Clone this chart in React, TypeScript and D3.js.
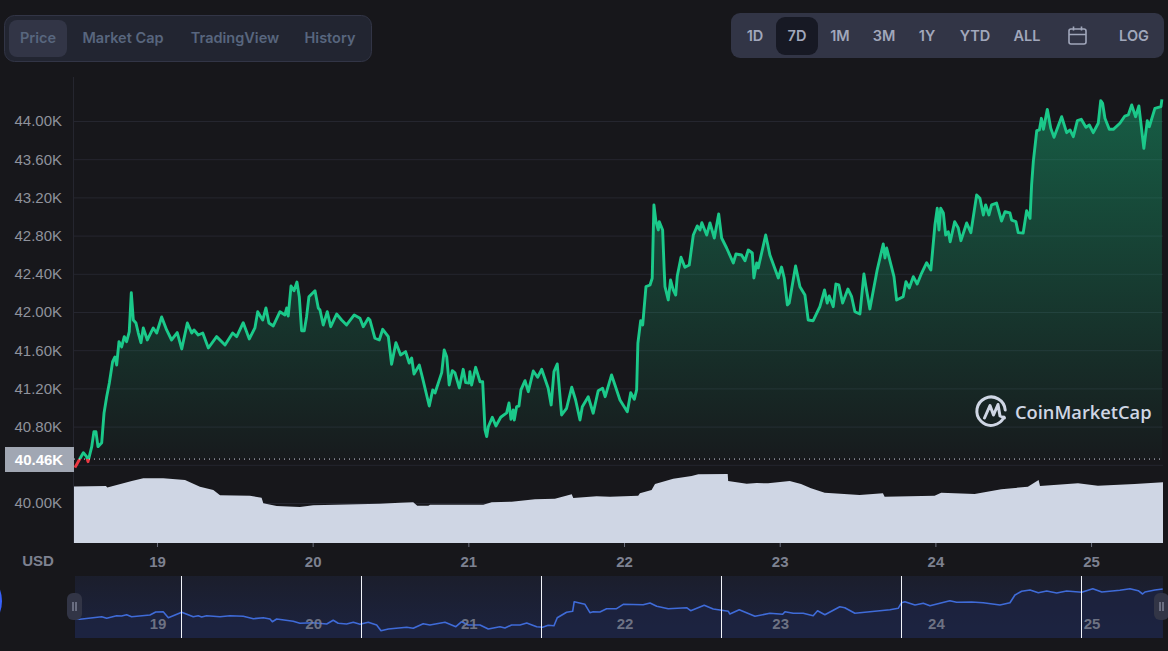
import { useRef, useEffect } from 'react';
import * as d3 from 'd3';

type Point = [number, number];

const dayTicks = [19, 20, 21, 22, 23, 24, 25];
const priceTicks = [40000, 40400, 40800, 41200, 41600, 42000, 42400, 42800, 43200, 43600, 44000];
const basePrice = 40460;
const leftTabs = ['Price', 'Market Cap', 'TradingView', 'History'];
const rangeTabs = ['1D', '7D', '1M', '3M', '1Y', 'YTD', 'ALL'];

// [day of month, USD]
const pricePoints: Point[] = [
  [18.473,40370],[18.493,40430],[18.527,40527],[18.548,40485],[18.557,40433],[18.581,40590],[18.595,40747],[18.608,40747],[18.621,40590],[18.645,40632],
  [18.66,40943],[18.677,41113],[18.694,41257],[18.715,41480],[18.73,41529],[18.741,41445],[18.756,41689],[18.773,41634],[18.79,41742],[18.805,41689],
  [18.822,41794],[18.835,42202],[18.848,41916],[18.865,41885],[18.88,41780],[18.897,41679],[18.912,41833],[18.938,41707],[18.976,41833],[18.998,41780],
  [19.03,41948],[19.062,41812],[19.094,41707],[19.13,41784],[19.159,41613],[19.195,41885],[19.223,41780],[19.238,41812],[19.265,41759],[19.294,41780],
  [19.33,41623],[19.383,41742],[19.437,41655],[19.486,41780],[19.512,41742],[19.554,41888],[19.593,41718],[19.629,41833],[19.647,42003],[19.679,41916],
  [19.7,42042],[19.719,41885],[19.747,41854],[19.79,42003],[19.822,41969],[19.833,42042],[19.843,41958],[19.861,42272],[19.88,42223],[19.899,42314],
  [19.914,42160],[19.929,41804],[19.946,41804],[19.961,41951],[19.976,42160],[20.015,42223],[20.036,42042],[20.047,42021],[20.068,41864],[20.094,42003],
  [20.116,41846],[20.154,41979],[20.186,41916],[20.218,41864],[20.267,41969],[20.304,41934],[20.325,41846],[20.357,41934],[20.368,41916],[20.4,41725],
  [20.428,41707],[20.45,41819],[20.486,41742],[20.507,41453],[20.535,41679],[20.565,41550],[20.597,41585],[20.62,41466],[20.636,41519],[20.651,41351],
  [20.685,41445],[20.71,41281],[20.749,41016],[20.771,41184],[20.786,41152],[20.829,41365],[20.845,41602],[20.861,41532],[20.877,41236],[20.897,41386],
  [20.914,41362],[20.942,41205],[20.967,41400],[20.983,41260],[21.004,41257],[21.01,41375],[21.021,41236],[21.047,41421],[21.075,41270],[21.092,41270],
  [21.107,40765],[21.118,40695],[21.128,40799],[21.154,40898],[21.177,40807],[21.208,40898],[21.246,40943],[21.261,41047],[21.274,40877],[21.288,40974],
  [21.295,40869],[21.31,41009],[21.325,41015],[21.338,41184],[21.364,41281],[21.385,41166],[21.417,41382],[21.445,41317],[21.471,41400],[21.513,41201],
  [21.532,41027],[21.55,41375],[21.571,41456],[21.599,40922],[21.631,40992],[21.664,41212],[21.689,41079],[21.717,40869],[21.732,41009],[21.77,41113],
  [21.802,40940],[21.834,41176],[21.862,41201],[21.879,41113],[21.92,41341],[21.974,41079],[22.021,40956],[22.043,41155],[22.066,41086],[22.081,41184],
  [22.089,41673],[22.107,41909],[22.12,41864],[22.141,42265],[22.167,42283],[22.181,42353],[22.192,43121],[22.205,42946],[22.22,42859],[22.226,42946],
  [22.248,42859],[22.258,42440],[22.263,42265],[22.284,42126],[22.299,42335],[22.316,42231],[22.332,42178],[22.342,42377],[22.366,42573],[22.391,42468],
  [22.419,42492],[22.445,42806],[22.47,42901],[22.488,42859],[22.5,42935],[22.531,42806],[22.552,42932],[22.58,42775],[22.608,43026],[22.627,42775],
  [22.659,42670],[22.702,42513],[22.719,42607],[22.755,42597],[22.777,42537],[22.798,42649],[22.824,42618],[22.834,42356],[22.852,42513],[22.862,42461],
  [22.91,42806],[22.937,42597],[22.991,42356],[23.012,42471],[23.029,42356],[23.049,42074],[23.061,42094],[23.102,42482],[23.13,42265],[23.162,42178],
  [23.183,41916],[23.215,41909],[23.258,42056],[23.288,42231],[23.305,42094],[23.318,42168],[23.344,42056],[23.361,42293],[23.38,42283],[23.404,42094],
  [23.438,42241],[23.462,42160],[23.483,42003],[23.515,41979],[23.541,42398],[23.554,42265],[23.579,42032],[23.626,42440],[23.665,42712],[23.676,42566],
  [23.687,42670],[23.734,42370],[23.751,42126],[23.793,42160],[23.811,42317],[23.832,42252],[23.858,42370],[23.883,42293],[23.911,42405],[23.944,42516],
  [23.971,42440],[23.997,42911],[24.012,43086],[24.023,42859],[24.034,43086],[24.051,43037],[24.066,42806],[24.083,42841],[24.095,42736],[24.124,42946],
  [24.147,42880],[24.164,42747],[24.201,42932],[24.228,42831],[24.265,43225],[24.286,43191],[24.308,43016],[24.323,43121],[24.344,43016],[24.361,43121],
  [24.393,43141],[24.425,42953],[24.447,43050],[24.479,43037],[24.49,42963],[24.517,42946],[24.532,42831],[24.564,42827],[24.586,43061],[24.608,42981],
  [24.618,43330],[24.629,43574],[24.651,43898],[24.668,43906],[24.681,44028],[24.694,43913],[24.719,44122],[24.741,43924],[24.762,43829],[24.811,44045],
  [24.843,43878],[24.865,43906],[24.886,43836],[24.912,44003],[24.937,44018],[24.967,43934],[24.989,43958],[25.014,43878],[25.046,43976],[25.062,44213],
  [25.074,44185],[25.089,44028],[25.117,43913],[25.143,43913],[25.185,43976],[25.217,44052],[25.239,44063],[25.261,44168],[25.286,44045],[25.307,44157],
  [25.339,43714],[25.361,44003],[25.374,43940],[25.41,44133],[25.449,44150],[25.455,44227],
];

// [day of month, volume in billions USD]
const volumePoints: Point[] = [
  [18.467,28.2],[18.672,28.5],[18.681,27.7],[18.838,31],[18.912,32.35],[19.04,32.35],[19.18,31.5],[19.276,28.15],[19.362,26.5],[19.405,23.85],
  [19.597,23.65],[19.672,22.65],[19.683,19.85],[19.769,18.5],[19.918,18],[20.004,18.85],[20.432,19.65],[20.561,20.15],[20.646,20.35],[20.672,18.65],
  [20.743,18.65],[20.754,19.15],[21.096,19.15],[21.15,20.35],[21.278,20.65],[21.428,21.85],[21.556,22.15],[21.664,24.35],[21.674,22.5],[21.824,23.35],
  [21.91,23.15],[22.091,23.65],[22.102,24.85],[22.177,26.5],[22.199,29.5],[22.316,32.15],[22.434,33.5],[22.477,34.35],[22.666,34.5],[22.669,31],
  [22.788,29.65],[22.852,30],[22.925,29.85],[23.064,31],[23.137,29.5],[23.201,27.35],[23.289,25.15],[23.513,24],[23.663,24.85],[23.674,23.15],
  [23.995,23.65],[24.037,25.15],[24.252,24.5],[24.423,26.85],[24.594,28.15],[24.663,31.5],[24.672,28.5],[24.916,29.85],[25.044,28.65],[25.28,29.5],[25.462,30.35],
];

// navigator strip: [position on its day axis, USD]
const navPoints: Point[] = [
  [18.473,41230],[18.505,41170],[18.645,41430],[18.677,41270],[18.741,41530],[18.773,41500],[18.805,41630],[18.837,41430],[18.955,41600],[18.992,41900],
  [19.04,41930],[19.073,41330],[19.116,41600],[19.159,41870],[19.233,41430],[19.265,41530],[19.287,41400],[19.319,41530],[19.405,41430],[19.469,41530],
  [19.554,41470],[19.619,41230],[19.683,41330],[19.726,41200],[19.741,40930],[19.769,41200],[19.875,40970],[19.918,40770],[20.004,40830],[20.09,40700],
  [20.132,41070],[20.164,40770],[20.218,40700],[20.261,40870],[20.304,40670],[20.357,40870],[20.411,40600],[20.439,40030],[20.486,40200],[20.604,40370],
  [20.646,40270],[20.71,40730],[20.753,40600],[20.85,40870],[20.92,40430],[20.957,40930],[20.999,40600],[21.075,40600],[21.128,40200],[21.203,40430],
  [21.235,40300],[21.278,40600],[21.332,40600],[21.375,40800],[21.439,40430],[21.477,40370],[21.513,40570],[21.55,40530],[21.571,41330],[21.631,41870],
  [21.67,41970],[21.68,42930],[21.749,42670],[21.781,41830],[21.802,41930],[21.845,41900],[21.888,42230],[21.952,42230],[21.995,42670],[22.123,42630],
  [22.167,42800],[22.21,42470],[22.284,42230],[22.402,42330],[22.428,42030],[22.515,42570],[22.573,42200],[22.67,41970],[22.68,41700],[22.74,42130],
  [22.841,41470],[22.937,41770],[23.019,41670],[23.034,41930],[23.087,41770],[23.151,41770],[23.215,41530],[23.243,42030],[23.29,41630],[23.386,42430],
  [23.418,42330],[23.483,41770],[23.547,41870],[23.708,42130],[23.761,42270],[23.783,42830],[23.804,42930],[23.869,42600],[23.922,42770],[23.965,42530],
  [24.093,43030],[24.136,42870],[24.233,42900],[24.307,42830],[24.415,42600],[24.479,42830],[24.511,43600],[24.554,43970],[24.608,44100],[24.661,43830],
  [24.715,44000],[24.779,43800],[24.843,44000],[24.94,43870],[25.011,44230],[25.069,43900],[25.185,44070],[25.25,44230],[25.303,44030],[25.331,43700],
  [25.346,43900],[25.41,44100],[25.46,44200],
];
const navMarkers = [19.154, 20.31, 21.467, 22.623, 23.78, 24.936];

const fontUi = 'Inter, "Noto Sans", sans-serif';
const fontAxis = '"Liberation Sans", Arial, sans-serif';

export default function App() {
  const svgRef = useRef<SVGSVGElement>(null);

  useEffect(() => {
    if (!svgRef.current) return;
    document.body.style.margin = '0';
    document.body.style.background = '#17171b';

    const svg = d3.select(svgRef.current);
    svg.selectAll('*').remove();

    const x = d3.scaleLinear().domain([18.467, 25.462]).range([74, 1163]);
    const y = d3.scaleLinear().domain([40000, 44000]).range([503, 121]);
    const yVol = d3.scaleLinear().domain([0, 40]).range([543, 463]);
    const yNav = d3.scaleLinear().domain([39300, 45500]).range([638, 576]);
    const baseY = y(basePrice);

    const defs = svg.append('defs');
    const gradient = defs.append('linearGradient')
      .attr('id', 'price-gradient')
      .attr('gradientUnits', 'userSpaceOnUse')
      .attr('x1', 0).attr('y1', 100)
      .attr('x2', 0).attr('y2', baseY);
    gradient.append('stop').attr('offset', '0%').attr('stop-color', '#16c784').attr('stop-opacity', 0.4);
    gradient.append('stop').attr('offset', '100%').attr('stop-color', '#16c784').attr('stop-opacity', 0.02);

    const navGradient = defs.append('linearGradient')
      .attr('id', 'nav-gradient')
      .attr('x1', 0).attr('y1', 0).attr('x2', 0).attr('y2', 1);
    navGradient.append('stop').attr('offset', '0%').attr('stop-color', '#1b1e2c');
    navGradient.append('stop').attr('offset', '100%').attr('stop-color', '#1c2340');

    defs.append('clipPath').attr('id', 'above-base').append('rect')
      .attr('x', 60).attr('y', 0).attr('width', 1120).attr('height', baseY);
    defs.append('clipPath').attr('id', 'below-base').append('rect')
      .attr('x', 60).attr('y', baseY).attr('width', 1120).attr('height', 40);

    svg.append('rect').attr('width', 1168).attr('height', 651).attr('fill', '#17171b');

    // Tabs, left
    svg.append('rect').attr('x', 4.5).attr('y', 15.5).attr('width', 367).attr('height', 46).attr('rx', 10)
      .attr('fill', '#222531').attr('stroke', '#323546');
    svg.append('rect').attr('x', 9).attr('y', 20).attr('width', 58).attr('height', 37).attr('rx', 8).attr('fill', '#323546');
    const leftX = [38, 123, 235, 330];
    svg.append('g').selectAll('text').data(leftTabs).join('text')
      .attr('x', (_, i) => leftX[i]).attr('y', 43)
      .attr('text-anchor', 'middle')
      .attr('font-family', fontUi).attr('font-size', 14.5).attr('font-weight', 600)
      .attr('fill', '#58667e')
      .text((d) => d);

    // Tabs, right
    svg.append('rect').attr('x', 731).attr('y', 13).attr('width', 433).attr('height', 45).attr('rx', 9).attr('fill', '#323546');
    svg.append('rect').attr('x', 776).attr('y', 17).attr('width', 42).attr('height', 38).attr('rx', 9).attr('fill', '#171924');
    const rangeX = [755, 797, 840, 884, 927, 975, 1027];
    svg.append('g').selectAll('text').data(rangeTabs).join('text')
      .attr('x', (_, i) => rangeX[i]).attr('y', 41)
      .attr('text-anchor', 'middle')
      .attr('font-family', fontUi).attr('font-size', 14.5).attr('font-weight', 600)
      .attr('fill', '#a1a7bb')
      .text((d) => d);
    svg.append('text').attr('x', 1134).attr('y', 41).attr('text-anchor', 'middle')
      .attr('font-family', fontUi).attr('font-size', 14.5).attr('font-weight', 600)
      .attr('fill', '#a1a7bb').text('LOG');
    const cal = svg.append('g').attr('fill', 'none').attr('stroke', '#a1a7bb').attr('stroke-width', 1.6);
    cal.append('rect').attr('x', 1069).attr('y', 29).attr('width', 17).attr('height', 15).attr('rx', 2);
    cal.append('path').attr('d', 'M1069 34.5H1086M1073.5 26.5V30.5M1081.5 26.5V30.5');

    // Grid
    svg.append('g').selectAll('line').data(priceTicks).join('line')
      .attr('x1', 74).attr('x2', 1163)
      .attr('y1', (d) => y(d) + 0.5).attr('y2', (d) => y(d) + 0.5)
      .attr('stroke', '#25262f');
    svg.append('line').attr('x1', 73.5).attr('x2', 73.5).attr('y1', 77).attr('y2', 543).attr('stroke', '#25262f');

    // Volume
    const volArea = d3.area<Point>()
      .x((d) => x(d[0]))
      .y0(yVol(0))
      .y1((d) => yVol(d[1]));
    svg.append('path').datum(volumePoints).attr('fill', '#cfd6e4').attr('d', volArea);

    // Price area and line
    const priceArea = d3.area<Point>()
      .x((d) => x(d[0]))
      .y0(baseY)
      .y1((d) => y(d[1]));
    svg.append('path').datum(pricePoints)
      .attr('fill', 'url(#price-gradient)')
      .attr('clip-path', 'url(#above-base)')
      .attr('d', priceArea);

    const priceLine = d3.line<Point>()
      .x((d) => x(d[0]))
      .y((d) => y(d[1]));
    svg.append('path').datum(pricePoints)
      .attr('fill', 'none').attr('stroke', '#1bc98a').attr('stroke-width', 2.9)
      .attr('stroke-linejoin', 'round')
      .attr('clip-path', 'url(#above-base)')
      .attr('d', priceLine);
    svg.append('path').datum(pricePoints)
      .attr('fill', 'none').attr('stroke', '#ea3943').attr('stroke-width', 2.9)
      .attr('stroke-linejoin', 'round')
      .attr('clip-path', 'url(#below-base)')
      .attr('d', priceLine);

    svg.append('line')
      .attr('x1', 74).attr('x2', 1163)
      .attr('y1', baseY).attr('y2', baseY)
      .attr('stroke', '#cfd6e4')
      .attr('stroke-width', 1)
      .attr('stroke-dasharray', '1 4');

    // Y axis
    const yAxis = svg.append('g')
      .attr('transform', 'translate(62,0)')
      .call(d3.axisLeft(y)
        .tickValues(priceTicks.filter((d) => d !== 40400))
        .tickSize(0)
        .tickPadding(0)
        .tickFormat((d) => `${((d as number) / 1000).toFixed(2)}K`));
    yAxis.select('.domain').remove();
    yAxis.selectAll('text')
      .attr('font-family', fontAxis).attr('font-size', 15).attr('fill', '#8f929c');

    svg.append('rect').attr('x', 5).attr('y', 447).attr('width', 69).attr('height', 25).attr('fill', '#a1a7b3');
    svg.append('text').attr('x', 39).attr('y', 465).attr('text-anchor', 'middle')
      .attr('font-family', fontAxis).attr('font-size', 15).attr('font-weight', 700)
      .attr('fill', '#ffffff').text('40.46K');

    // X axis
    const xAxis = svg.append('g')
      .attr('transform', 'translate(0,543)')
      .call(d3.axisBottom(x).tickValues(dayTicks).tickSize(4).tickPadding(9).tickFormat(d3.format('d')));
    xAxis.select('.domain').remove();
    xAxis.selectAll('line').attr('stroke', '#6b6f7d');
    xAxis.selectAll('text')
      .attr('font-family', fontAxis).attr('font-size', 15).attr('font-weight', 700).attr('fill', '#7d8190');
    svg.append('text').attr('x', 38).attr('y', 565.5).attr('text-anchor', 'middle')
      .attr('font-family', fontAxis).attr('font-size', 15).attr('font-weight', 700)
      .attr('fill', '#7d8190').text('USD');

    // Watermark
    const logo = svg.append('g').attr('fill', 'none').attr('stroke', '#cfd6e4').attr('stroke-width', 3)
      .attr('stroke-linecap', 'round').attr('stroke-linejoin', 'round');
    logo.append('path').attr('d', 'M1004 417 A14.2 14.2 0 1 1 1005.2 410');
    logo.append('path').attr('d', 'M984.5 418 L990 405.5 L993.5 415 L998 404.5 L1000 416 L1004.5 418');
    svg.append('text').attr('x', 1015).attr('y', 418.5)
      .attr('font-family', '"Open Sans", Inter, sans-serif').attr('font-size', 18.3).attr('font-weight', 600)
      .attr('fill', '#cfd6e4').text('CoinMarketCap');

    // Navigator
    svg.append('rect').attr('x', 75).attr('y', 576).attr('width', 1088).attr('height', 62).attr('fill', 'url(#nav-gradient)');
    const navArea = d3.area<Point>()
      .x((d) => x(d[0]))
      .y0(yNav.range()[0])
      .y1((d) => yNav(d[1]));
    svg.append('path').datum(navPoints).attr('fill', '#1c2442').attr('fill-opacity', 0.7).attr('d', navArea);
    const navLine = d3.line<Point>()
      .x((d) => x(d[0]))
      .y((d) => yNav(d[1]));
    svg.append('path').datum(navPoints)
      .attr('fill', 'none').attr('stroke', '#3f6bd8').attr('stroke-width', 1.6)
      .attr('stroke-linejoin', 'round').attr('d', navLine);
    svg.append('g').selectAll('text').data(dayTicks).join('text')
      .attr('x', (d) => x(d) + 1).attr('y', 629)
      .attr('text-anchor', 'middle')
      .attr('font-family', fontAxis).attr('font-size', 15).attr('font-weight', 700)
      .attr('fill', '#7d8190').attr('fill-opacity', 0.85)
      .text((d) => d);
    svg.append('g').selectAll('line').data(navMarkers).join('line')
      .attr('x1', (d) => Math.round(x(d)) + 0.5).attr('x2', (d) => Math.round(x(d)) + 0.5)
      .attr('y1', 576).attr('y2', 638)
      .attr('stroke', '#f2f4fa').attr('stroke-width', 1);

    // Navigator handles
    [[67, 593], [1154, 593]].forEach(([hx, hy]) => {
      svg.append('rect').attr('x', hx).attr('y', hy).attr('width', 15).attr('height', 27).attr('rx', 6).attr('fill', '#323546');
      svg.append('path').attr('d', `M${hx + 6} ${hy + 9}v9M${hx + 9} ${hy + 9}v9`).attr('stroke', '#a1a7bb').attr('stroke-width', 1);
    });
    svg.append('circle').attr('cx', -32).attr('cy', 601).attr('r', 34).attr('fill', '#3861fb');
  }, []);

  return <svg ref={svgRef} width={1168} height={651} style={{ display: 'block' }} />;
}
